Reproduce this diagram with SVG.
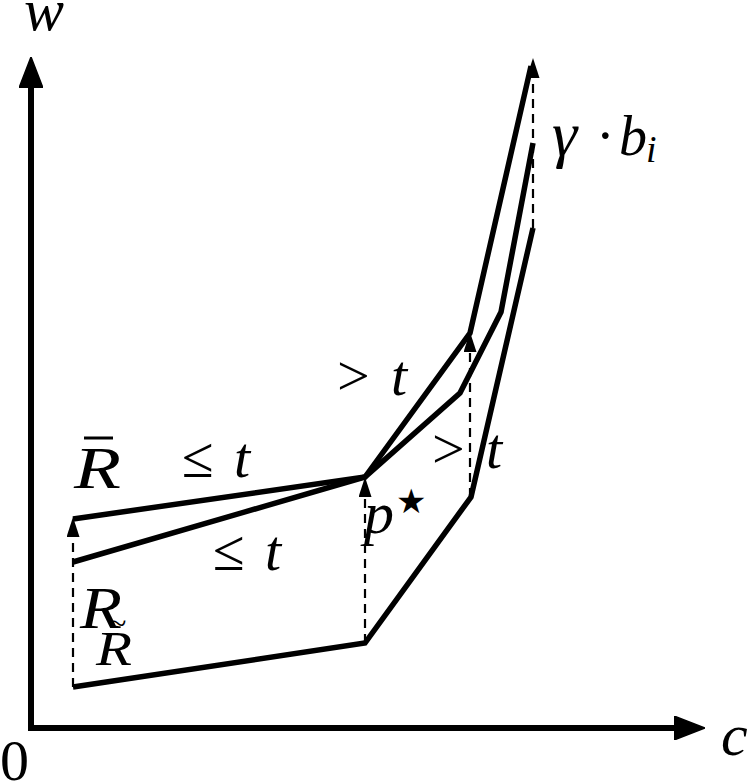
<svg xmlns="http://www.w3.org/2000/svg" width="749" height="781" viewBox="0 0 749 781">
<style>
.thick{fill:none;stroke:#000;stroke-width:5.5;stroke-linejoin:miter;stroke-linecap:butt}
.axis{fill:none;stroke:#000;stroke-width:6;stroke-linecap:butt}
.dash{fill:none;stroke:#000;stroke-width:2.2;stroke-dasharray:9 6}
.m{font-family:"Liberation Serif","Times New Roman",serif;font-style:italic;fill:#000}
.r{font-family:"Liberation Serif","Times New Roman",serif;fill:#000}
</style>
<defs>
<marker id="ah" viewBox="0 0 20 13" refX="0" refY="6.5" markerWidth="20" markerHeight="13" markerUnits="userSpaceOnUse" orient="auto">
<path d="M0,0 L20,6.5 L0,13 z" fill="#000"/>
</marker>
<marker id="axh" viewBox="0 0 31 24" refX="0" refY="12" markerWidth="31" markerHeight="24" markerUnits="userSpaceOnUse" orient="auto">
<path d="M0,0 L31,12 L0,24 z" fill="#000" stroke="#000" stroke-width="1.5" stroke-linejoin="round"/>
</marker>
</defs>
<g id="axes">
<path class="axis" d="M31,731 V88" marker-end="url(#axh)"/>
<path class="axis" d="M28,728 H674" marker-end="url(#axh)"/>
</g>
<g id="connectors">
<path class="dash" d="M73,687 V537" marker-end="url(#ah)"/>
<path class="dash" d="M365,643 V497" marker-end="url(#ah)"/>
<path class="dash" d="M470,497 V352" marker-end="url(#ah)"/>
<path class="dash" d="M533,228 V78" marker-end="url(#ah)"/>
</g>
<g id="curves">
<polyline id="Rbar" class="thick" points="73,519 365,477 470,333 531,66"/>
<polyline id="Rmid" class="thick" points="73,562 365,477 460,393 501,312 533,143"/>
<polyline id="Rlow" class="thick" points="73,687 365,643 471,497 533,228"/>
</g>
<g id="labels">
<text class="m" x="24" y="30" font-size="60">w</text>
<text class="m" x="721" y="755" font-size="60">c</text>
<text class="r" x="0" y="780" font-size="58">0</text>
<g id="label-Rbar">
<text class="m" x="74" y="488" font-size="60" textLength="47" lengthAdjust="spacingAndGlyphs">R</text>
<line x1="84" y1="438" x2="113" y2="438" stroke="#000" stroke-width="3"/>
</g>
<text class="r" x="182" y="477" font-size="58">≤<tspan class="m" x="234">t</tspan></text>
<text class="r" x="213" y="570" font-size="58">≤<tspan class="m" x="265">t</tspan></text>
<text class="r" x="337" y="395" font-size="58">&gt;<tspan class="m" x="391">t</tspan></text>
<text class="r" x="432" y="468" font-size="58">&gt;<tspan class="m" x="486">t</tspan></text>
<text class="m" x="364" y="533" font-size="60">p<tspan class="r" font-family="DejaVu Sans" font-style="normal" x="396" y="513" font-size="34">★</tspan></text>
<text class="m" x="552" y="155" font-size="64">γ<tspan class="r" font-style="normal" font-size="56" x="596">·</tspan><tspan font-size="56" x="619">b</tspan><tspan x="646" y="162" font-size="38">i</tspan></text>
<g id="label-Rtilde">
<text class="m" x="80" y="628" font-size="60" textLength="42" lengthAdjust="spacingAndGlyphs">R</text>
<text class="r" x="109" y="634" font-size="32">~</text>
<text class="m" x="96" y="665" font-size="48" textLength="36" lengthAdjust="spacingAndGlyphs">R</text>
</g>
</g>
</svg>
